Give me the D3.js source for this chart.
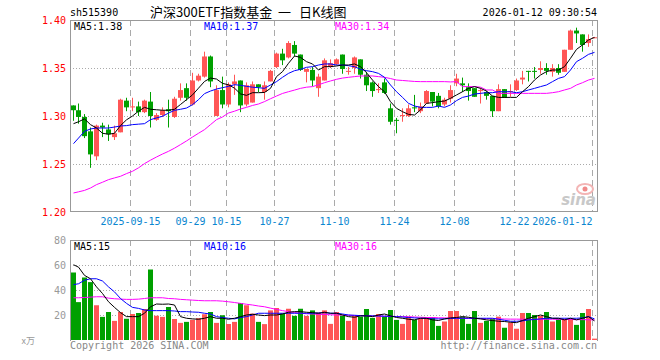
<!DOCTYPE html>
<html><head><meta charset="utf-8">
<script src="https://cdn.jsdelivr.net/npm/d3@7/dist/d3.min.js"></script>
<style>body{margin:0;background:#fff}svg{display:block}</style>
</head><body>
<svg id="c" width="660" height="360"></svg>
<script>
const dates = [
"2025-09-01","2025-09-02","2025-09-03","2025-09-04","2025-09-05","2025-09-08","2025-09-09","2025-09-10","2025-09-11","2025-09-12",
"2025-09-15","2025-09-16","2025-09-17","2025-09-18","2025-09-19","2025-09-22","2025-09-23","2025-09-24","2025-09-25","2025-09-26",
"2025-09-29","2025-09-30","2025-10-09","2025-10-10","2025-10-13","2025-10-14","2025-10-15","2025-10-16","2025-10-17","2025-10-20",
"2025-10-21","2025-10-22","2025-10-23","2025-10-24","2025-10-27","2025-10-28","2025-10-29","2025-10-30","2025-10-31","2025-11-03",
"2025-11-04","2025-11-05","2025-11-06","2025-11-07","2025-11-10","2025-11-11","2025-11-12","2025-11-13","2025-11-14","2025-11-17",
"2025-11-18","2025-11-19","2025-11-20","2025-11-21","2025-11-24","2025-11-25","2025-11-26","2025-11-27","2025-11-28","2025-12-01",
"2025-12-02","2025-12-03","2025-12-04","2025-12-05","2025-12-08","2025-12-09","2025-12-10","2025-12-11","2025-12-12","2025-12-15",
"2025-12-16","2025-12-17","2025-12-18","2025-12-19","2025-12-22","2025-12-23","2025-12-24","2025-12-25","2025-12-26","2025-12-29",
"2025-12-30","2025-12-31","2026-01-05","2026-01-06","2026-01-07","2026-01-08","2026-01-09","2026-01-12"];

const open = [1.311,1.306,1.299,1.284,1.258,1.290,1.286,1.278,1.283,1.316,
1.309,1.310,1.304,1.315,1.296,1.301,1.307,1.299,1.319,1.329,
1.312,1.337,1.341,1.362,1.300,1.327,1.312,1.333,1.337,1.312,
1.314,1.333,1.325,1.336,1.351,1.365,1.361,1.374,1.364,1.346,
1.348,1.329,1.337,1.351,1.354,1.364,1.346,1.350,1.359,1.343,
1.335,1.327,1.335,1.308,1.296,1.300,1.300,1.309,1.305,1.313,
1.325,1.321,1.312,1.318,1.334,1.334,1.330,1.329,1.326,1.325,
1.321,1.305,1.328,1.325,1.327,1.338,1.347,1.347,1.348,1.350,
1.346,1.350,1.346,1.369,1.389,1.385,1.376,1.381];
const high = [1.311,1.313,1.302,1.288,1.291,1.293,1.291,1.290,1.318,1.319,
1.319,1.315,1.317,1.325,1.303,1.309,1.317,1.320,1.334,1.334,
1.345,1.344,1.367,1.363,1.332,1.341,1.335,1.343,1.337,1.335,
1.336,1.333,1.336,1.348,1.366,1.370,1.378,1.378,1.364,1.349,
1.351,1.344,1.360,1.359,1.360,1.364,1.351,1.362,1.359,1.346,
1.336,1.334,1.339,1.313,1.298,1.308,1.312,1.322,1.314,1.327,
1.325,1.324,1.319,1.332,1.344,1.340,1.334,1.329,1.329,1.326,
1.321,1.333,1.328,1.333,1.339,1.347,1.347,1.351,1.357,1.355,
1.354,1.354,1.369,1.390,1.392,1.385,1.385,1.382];
const low = [1.295,1.292,1.277,1.246,1.254,1.278,1.274,1.275,1.283,1.305,
1.305,1.300,1.303,1.288,1.295,1.299,1.288,1.298,1.316,1.316,
1.311,1.336,1.340,1.330,1.300,1.308,1.309,1.322,1.304,1.310,
1.314,1.325,1.317,1.336,1.350,1.353,1.360,1.362,1.347,1.335,
1.331,1.320,1.337,1.350,1.353,1.344,1.343,1.344,1.339,1.326,
1.320,1.324,1.323,1.291,1.282,1.294,1.299,1.304,1.303,1.313,
1.310,1.308,1.310,1.314,1.331,1.325,1.316,1.320,1.313,1.317,
1.299,1.305,1.319,1.320,1.326,1.333,1.336,1.339,1.344,1.343,
1.341,1.343,1.346,1.369,1.376,1.367,1.372,1.381];
const close = [1.306,1.299,1.279,1.260,1.290,1.288,1.281,1.282,1.317,1.309,
1.310,1.304,1.316,1.300,1.301,1.306,1.305,1.318,1.327,1.319,
1.337,1.342,1.362,1.336,1.327,1.312,1.333,1.336,1.311,1.332,
1.333,1.330,1.332,1.347,1.365,1.358,1.376,1.365,1.348,1.349,
1.337,1.341,1.358,1.355,1.359,1.349,1.347,1.361,1.343,1.332,
1.326,1.328,1.324,1.294,1.295,1.301,1.308,1.308,1.310,1.326,
1.315,1.310,1.317,1.327,1.339,1.332,1.326,1.320,1.327,1.321,
1.305,1.328,1.319,1.326,1.337,1.340,1.346,1.346,1.350,1.347,
1.350,1.345,1.369,1.389,1.386,1.374,1.380,1.382];
const volume = [54,30.3,50,46.3,27.8,18.5,22.4,15.3,22.4,17,
20.8,21.6,24.8,56.4,19.4,18.5,26.4,16.8,13.7,14.5,
16.1,17.5,20.6,22.4,13.7,19.8,12.8,14.5,29.6,27.8,
21.1,14.5,12.7,23.7,25.6,21.1,25,19.3,25,19.3,
23.7,21.9,23.7,12.9,22.4,19.5,15.3,19.3,18.7,24.8,
17.7,20.8,18.7,24,16.1,12.9,18.7,16.1,17.2,17.7,
18.2,11.3,14.8,23.2,23.2,18.7,12.9,23.2,13.7,15.3,
16.9,18.7,9.8,14,9,21.6,21.6,20,19.3,22.4,
14.8,16.9,16.9,16.9,12.1,21.6,24.8,1.1];

const ma5 = [1.292,1.294,1.297,1.291,1.2875,1.282,1.281,1.282,1.290,1.296,
1.300,1.305,1.309,1.307,1.3065,1.306,1.306,1.307,1.312,1.317,
1.322,1.329,1.336,1.3395,1.3385,1.334,1.3325,1.329,1.323,1.3215,
1.3243,1.3243,1.3245,1.3288,1.341,1.3462,1.3549,1.3625,1.3611,1.3566,
1.3542,1.3479,1.3514,1.3514,1.3521,1.3531,1.3531,1.3542,1.3514,1.3451,
1.3375,1.3306,1.3253,1.3149,1.308,1.3045,1.3017,1.301,1.3063,1.3132,
1.3139,1.3149,1.3156,1.3184,1.3219,1.3253,1.3288,1.3306,1.3288,1.326,
1.3208,1.3194,1.3194,1.3194,1.3194,1.3253,1.3306,1.3375,1.3427,1.3462,
1.3479,1.3479,1.3514,1.3601,1.3694,1.374,1.3792,1.3819];
const ma10 = [1.2712,1.277,1.284,1.2865,1.2875,1.2875,1.2875,1.2885,1.2896,1.290,
1.2910,1.2915,1.292,1.2962,1.298,1.2997,1.303,1.3059,1.307,1.3083,
1.3118,1.317,1.3233,1.326,1.3281,1.3295,1.3309,1.3326,1.332,1.3309,
1.330,1.3295,1.3288,1.3323,1.3358,1.3403,1.3444,1.3472,1.3486,1.3507,
1.3514,1.3531,1.3542,1.3542,1.3531,1.3531,1.3524,1.3514,1.3486,1.3472,
1.3462,1.3444,1.3403,1.3323,1.3253,1.3194,1.3132,1.3104,1.309,1.309,
1.309,1.3104,1.309,1.3115,1.316,1.3194,1.3208,1.3229,1.3236,1.3243,
1.3243,1.3253,1.3253,1.3253,1.3243,1.3253,1.3271,1.3288,1.3306,1.3323,
1.3358,1.3392,1.341,1.3479,1.3566,1.3601,1.3642,1.3663];
const ma30 = [1.2198,1.221,1.2225,1.225,1.2285,1.231,1.2337,1.2355,1.2372,1.240,
1.2424,1.246,1.2504,1.254,1.2573,1.2604,1.2632,1.2665,1.2702,1.274,
1.2781,1.282,1.2858,1.291,1.2962,1.299,1.3031,1.305,1.3073,1.309,
1.311,1.3125,1.315,1.318,1.3208,1.3235,1.3253,1.327,1.3288,1.330,
1.3306,1.3325,1.3347,1.3365,1.3382,1.3395,1.3403,1.341,1.3417,1.3417,
1.3417,1.341,1.3403,1.339,1.3375,1.337,1.3365,1.336,1.3358,1.3358,
1.3358,1.3358,1.3358,1.3355,1.3358,1.3306,1.3306,1.3306,1.330,1.3271,
1.3271,1.3236,1.3236,1.3236,1.3236,1.3236,1.3236,1.3236,1.3236,1.3236,
1.3243,1.3253,1.3271,1.3288,1.3323,1.3347,1.3375,1.3392];
const vma5 = [60.2,58.3,51.7,49,42.5,37.2,30.6,26.1,21.9,18.7,
18.7,18.7,21.4,26.6,28.8,28.6,28.8,28,18.7,17.4,
16.9,16.6,17.4,18.7,17.4,17.4,16.6,17.4,18.7,20,
20.6,20,19.5,20,20,20.8,22.2,22.7,22.7,22.2,
21.9,21.4,22.2,21.4,21.4,20,18.7,18.2,19.3,19.3,
18.7,20,20.8,19.3,18,17.4,16.6,16.1,17.4,17.4,
16.1,15.6,16.9,17.7,18,18.7,18.2,17.4,16.9,16.1,
15.6,15,14.8,14.2,13.9,15.6,17.4,18.7,20,18.7,
17.4,17.4,16.1,17.4,16.1,17.4,18.7,15.3];
const vma10 = [44.3,45,47.8,49,49,47.2,42.5,38.5,33.2,29.3,
26.1,25.3,24,23.5,23.5,23.5,23.5,23.2,22.7,22.7,
22.4,22.2,21.4,20.8,18.7,18,17.4,16.9,18,18.7,
20,21.4,21.4,21.4,21.4,21.4,21.4,21.4,21.4,21.4,
21.4,21.6,21.9,21.4,21.4,20.8,20,19.8,19.5,19.3,
19.3,19.3,19,19,18.7,18.4,18,17.7,17.4,17.2,
17,16.9,16.9,17.2,17.4,17.4,17.4,17.4,17.4,17.4,
17.4,16.6,15.8,15,15,15.3,16.1,16.4,16.9,17.4,
17.4,17.4,17.4,17.4,17.4,17.7,18.7,16.9];
const vma30 = [33.8,33.8,34,34.3,34.6,34.6,33.5,33,32.7,32.5,
32.5,32.7,33.2,33.8,33.8,33.8,33.2,33,32.5,32.2,
31.9,31.6,31.4,31.4,31.4,31.1,30.6,30,29.3,28.6,
28,27.2,26.6,25.5,24.5,23.5,22.7,22,21.4,21,
20.8,20.6,20.4,20.2,20,20,19.8,19.6,19.5,19.4,
19.3,19.1,19,18.9,18.8,18.7,18.6,18.4,18.2,18,
18,17.8,17.7,17.6,17.5,17.4,17.3,17.2,17.1,17,
17,16.9,16.8,16.7,16.7,16.6,16.6,16.6,16.6,16.6,
16.6,16.5,16.5,16.4,16.3,16.3,16.2,16.1];

const tickDates = ["2025-09-15","2025-09-29","2025-10-15","2025-10-27","2025-11-10","2025-11-24","2025-12-08","2025-12-22","2026-01-12"];
const tickLabels = ["2025-09-15","09-29","10-15","10-27","11-10","11-24","12-08","12-22","2026-01-12"];
const priceTicks = [1.20,1.25,1.30,1.35,1.40];
const volTicks = [20,40,60,80];

const MONO = "'DejaVu Sans Mono', monospace";
const CJK = "'Noto Sans CJK SC', sans-serif";
const UP = "#ff5656", DOWN = "#00a000";
const svg = d3.select("#c");
const L = 70, R = 597;
const x = d3.scaleBand().domain(dates).range([L, R]).paddingInner(0).paddingOuter(0);
const y = d3.scaleLinear().domain([1.20, 1.40]).range([212, 20]);
const yv = d3.scaleLinear().domain([0, 80]).range([340, 240]);
const cx = d => Math.floor(x(d)) + 3.5;

// horizontal dotted grid
svg.append("g").selectAll("line").data(priceTicks.slice(1, 4)).join("line")
  .attr("x1", L).attr("x2", R).attr("y1", d => Math.round(y(d)) + 0.5).attr("y2", d => Math.round(y(d)) + 0.5)
  .attr("stroke", "#aaa").attr("stroke-dasharray", "1,2");
svg.append("g").selectAll("line").data(volTicks.slice(0, 3)).join("line")
  .attr("x1", L).attr("x2", R).attr("y1", d => Math.round(yv(d)) + 0.5).attr("y2", d => Math.round(yv(d)) + 0.5)
  .attr("stroke", "#aaa").attr("stroke-dasharray", "1,2");

// vertical dashed grid
const vx = d => Math.floor(x(d) + 1) + 0.5;
[[20, 212], [240, 340]].forEach(([a, b]) => {
  svg.append("g").selectAll("line").data(tickDates).join("line")
    .attr("x1", vx).attr("x2", vx).attr("y1", a).attr("y2", b)
    .attr("stroke", "#aaa").attr("stroke-dasharray", "6,4");
});

// frames
const frame = (t, b, bottom) => {
  const g = svg.append("g").attr("stroke", "#999").attr("fill", "none");
  g.append("line").attr("x1", L).attr("x2", R + 1).attr("y1", t + 0.5).attr("y2", t + 0.5);
  g.append("line").attr("x1", L + 0.5).attr("x2", L + 0.5).attr("y1", t).attr("y2", b);
  g.append("line").attr("x1", R + 0.5).attr("x2", R + 0.5).attr("y1", t).attr("y2", b);
  if (bottom) g.append("line").attr("x1", L).attr("x2", R + 1).attr("y1", b - 0.5).attr("y2", b - 0.5);
};
frame(20, 212, true);
frame(240, 341, false);

// sina watermark
const wm = svg.append("g");
wm.append("ellipse").attr("cx", 585).attr("cy", 189).attr("rx", 8).attr("ry", 5).attr("fill", "none").attr("stroke", "#f3b5b5").attr("stroke-width", 2);
wm.append("circle").attr("cx", 585).attr("cy", 189).attr("r", 2.5).attr("fill", "#f08a8a");
wm.append("text").attr("x", 596).attr("y", 205).attr("text-anchor", "end").attr("font-family", "'DejaVu Sans', sans-serif")
  .attr("font-size", 15).attr("font-weight", "bold").attr("font-style", "italic").attr("fill", "#c8c8c8").text("sina");

// candles
const idx = d3.range(dates.length);
const cg = svg.append("g");
cg.selectAll("line").data(idx).join("line")
  .attr("x1", i => cx(dates[i])).attr("x2", i => cx(dates[i]))
  .attr("y1", i => y(high[i])).attr("y2", i => y(low[i]))
  .attr("stroke", i => close[i] >= open[i] ? UP : DOWN).attr("stroke-width", 1);
cg.selectAll("rect").data(idx).join("rect")
  .attr("x", i => Math.floor(x(dates[i])) + 1).attr("width", 5)
  .attr("y", i => y(Math.max(open[i], close[i])))
  .attr("height", i => Math.max(1, Math.abs(y(open[i]) - y(close[i]))))
  .attr("fill", i => close[i] >= open[i] ? UP : DOWN);

// price MAs
const lineP = arr => d3.line().x((v, i) => cx(dates[i])).y(v => y(v))(arr);
[[ma30, "#ff00ff"], [ma10, "#0000ff"], [ma5, "#000"]].forEach(([a, c]) =>
  svg.append("path").attr("d", lineP(a)).attr("fill", "none").attr("stroke", c).attr("stroke-width", 1));

// volume bars
svg.append("g").selectAll("rect").data(idx).join("rect")
  .attr("x", i => Math.floor(x(dates[i])) + 1).attr("width", 5)
  .attr("y", i => yv(volume[i])).attr("height", i => yv(0) - yv(volume[i]))
  .attr("fill", i => close[i] >= open[i] ? UP : DOWN);
const lineV = arr => d3.line().x((v, i) => cx(dates[i])).y(v => yv(v))(arr);
[[vma30, "#ff00ff"], [vma10, "#0000ff"], [vma5, "#000"]].forEach(([a, c]) =>
  svg.append("path").attr("d", lineV(a)).attr("fill", "none").attr("stroke", c).attr("stroke-width", 1));

// texts
const txt = (s, xx, yy, col, anchor, size, fam) => svg.append("text").attr("x", xx).attr("y", yy)
  .attr("fill", col).attr("text-anchor", anchor || "start").attr("font-size", size || 10)
  .attr("font-family", fam || MONO).text(s);

txt("sh515390", 70, 16, "#000");
txt("沪深300ETF指数基金", 150, 17, "#000", "start", 13, CJK);
txt("一", 278, 17, "#000", "start", 13, CJK);
txt("日K线图", 299, 17, "#000", "start", 13, CJK);
txt("2026-01-12 09:30:54", 597, 16, "#000", "end");

svg.append("g").selectAll("text").data(priceTicks).join("text")
  .attr("x", 66).attr("y", d => y(d) + 4).attr("text-anchor", "end").attr("font-family", MONO).attr("font-size", 10)
  .attr("fill", "#ff0000").text(d => d.toFixed(2));
svg.append("g").selectAll("text").data(volTicks).join("text")
  .attr("x", 66).attr("y", d => yv(d) + 4).attr("text-anchor", "end").attr("font-family", MONO).attr("font-size", 10)
  .attr("fill", "#999").text(d => d);
txt("x万", 35, 344, "#999", "end", 9, CJK);

svg.append("g").selectAll("text").data(tickDates).join("text")
  .attr("x", d => vx(d))
  .attr("y", 225).attr("text-anchor", (d, i) => i === tickDates.length - 1 ? "end" : "middle")
  .attr("font-family", MONO).attr("font-size", 10).attr("fill", "#0a86d0")
  .text((d, i) => tickLabels[i]);

const last = dates.length - 1;
txt("MA5:" + ma5[last].toFixed(2), 74, 30, "#000");
txt("MA10:" + ma10[last].toFixed(2), 204, 30, "#0000ff");
txt("MA30:" + ma30[last].toFixed(2), 335, 30, "#ff00ff");
txt("MA5:" + Math.floor(vma5[last]), 74, 249.5, "#000");
txt("MA10:" + Math.floor(vma10[last]), 204, 249.5, "#0000ff");
txt("MA30:" + Math.floor(vma30[last]), 335, 249.5, "#ff00ff");

txt("Copyright 2026 SINA.COM", 70, 349, "#888");
txt("http://finance.sina.com.cn", 597, 349, "#888", "end");
</script>
</body></html>
